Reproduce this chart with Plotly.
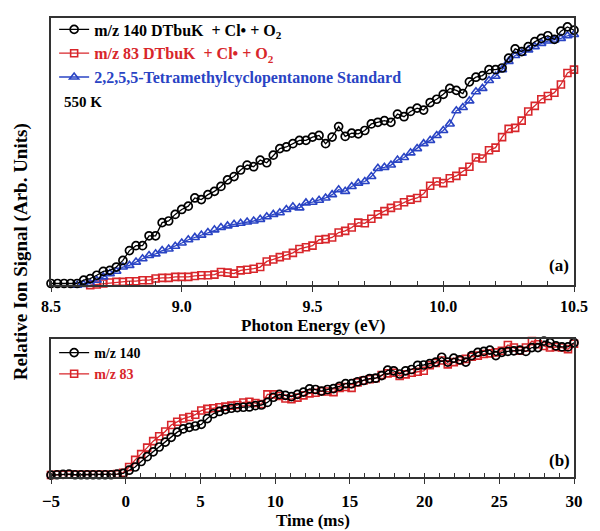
import numpy as np
import plotly.graph_objects as go

# ---------------- Panel (a): photoionization spectra ----------------
energy_140 = np.round(np.arange(81) * 0.025 + 8.5, 3)
signal_140 = [5, 5, 5, 5, 5, 15, 20, 30, 42, 45,
              55, 75, 105, 120, 120, 150, 150, 190, 195, 215,
              230, 240, 265, 260, 275, 285, 300, 320, 330, 350,
              365, 360, 380, 372, 395, 415, 420, 430, 440, 440,
              450, 455, 430, 450, 482, 452, 462, 460, 470, 490,
              495, 500, 495, 520, 512, 528, 538, 532, 555, 565,
              580, 598, 592, 582, 618, 632, 637, 655, 655, 660,
              690, 718, 710, 725, 740, 750, 758, 747, 772, 785,
              775]

energy_83 = np.round(np.arange(75) * 0.025 + 8.65, 3)
signal_83 = [0, 2, 5, 8, 10, 10, 12, 12, 15, 15,
             20, 22, 22, 25, 25, 25, 28, 30, 30, 32,
             40, 38, 35, 45, 47, 50, 55, 72, 78, 85,
             90, 98, 110, 115, 120, 138, 140, 145, 160, 165,
             175, 190, 188, 202, 215, 225, 235, 242, 252, 260,
             265, 278, 302, 315, 310, 325, 332, 345, 360, 388,
             385, 410, 418, 450, 475, 478, 500, 528, 545, 565,
             575, 585, 610, 645, 655]

energy_std = np.round(np.arange(77) * 0.025 + 8.6, 3)
signal_std = [0, 2, 5, 15, 25, 35, 42, 55, 60, 70,
              80, 90, 95, 105, 110, 118, 128, 138, 145, 152,
              160, 168, 175, 180, 185, 188, 192, 195, 200, 208,
              215, 220, 230, 238, 235, 250, 252, 258, 265, 275,
              290, 285, 300, 310, 315, 330, 355, 358, 365, 380,
              388, 402, 415, 430, 440, 455, 470, 490, 530, 540,
              560, 588, 598, 622, 635, 655, 680, 698, 705, 715,
              725, 735, 742, 745, 750, 758, 762]

energy_ticks = [8.5, 9.0, 9.5, 10.0, 10.5]
energy_ticklabels = ["8.5", "9.0", "9.5", "10.0", "10.5"]

# ---------------- Panel (b): kinetic time traces ----------------
time_ms = np.round(np.linspace(-5, 30, 88), 3)
kin_140 = [0, 1, 2, 3, 1, 1, 1, 1, 1, 1, 1, 3, 5,
           15, 25, 42, 57, 72, 87, 102, 117, 133, 143, 148, 152, 157,
           175, 190, 197, 203, 207, 209, 210, 211, 215, 217, 225, 241,
           250, 247, 243, 250, 257, 267, 265, 260, 265, 268, 275, 283,
           283, 289, 293, 299, 300, 308, 325, 323, 313, 323, 327, 340,
           341, 345, 350, 365, 350, 362, 357, 350, 370, 380, 383, 387,
           370, 380, 383, 385, 387, 383, 395, 395, 415, 410, 400, 397,
           397, 410]
kin_83 = [0, 1, 1, 2, 1, 1, 1, 1, 1, 1, 1, 3, 7,
          25, 47, 65, 85, 105, 120, 135, 155, 165, 175, 180, 187, 200,
          205, 207, 210, 212, 215, 217, 225, 227, 223, 220, 250, 250,
          245, 237, 235, 240, 247, 253, 255, 260, 259, 257, 270, 273,
          270, 287, 293, 297, 300, 310, 315, 317, 307, 312, 317, 320,
          323, 340, 347, 355, 343, 350, 355, 360, 367, 370, 375, 377,
          380, 385, 403, 395, 385, 395, 415, 405, 400, 395, 397, 395,
          390, 407]
time_ticks = [-5, 0, 5, 10, 15, 20, 25, 30]

BLACK = "#000000"
RED = "#d8262b"
BLUE = "#2a44c4"
FONT = "Liberation Serif"

fig = go.Figure()

# Panel (a)
fig.add_trace(go.Scatter(
    x=energy_83, y=signal_83, mode="lines+markers", xaxis="x", yaxis="y",
    name=f'<span style="color:{RED}"><b>m/z 83 DTbuK  + Cl• + O<sub>2</sub></b></span>',
    line=dict(color=RED, width=1.3),
    marker=dict(symbol="square-open", size=7, color=RED, line=dict(width=1.6, color=RED)),
    cliponaxis=False, legend="legend", legendrank=2))
fig.add_trace(go.Scatter(
    x=energy_std, y=signal_std, mode="lines+markers", xaxis="x", yaxis="y",
    name=f'<span style="color:{BLUE}"><b>2,2,5,5-Tetramethylcyclopentanone Standard</b></span>',
    line=dict(color=BLUE, width=1.3),
    marker=dict(symbol="triangle-up-open", size=8, color=BLUE, line=dict(width=1.6, color=BLUE)),
    cliponaxis=False, legend="legend", legendrank=3))
fig.add_trace(go.Scatter(
    x=energy_140, y=signal_140, mode="lines+markers", xaxis="x", yaxis="y",
    name='<b>m/z 140 DTbuK  + Cl• + O<sub>2</sub></b>',
    line=dict(color=BLACK, width=1.3),
    marker=dict(symbol="circle-open", size=8, color=BLACK, line=dict(width=1.7, color=BLACK)),
    cliponaxis=False, legend="legend", legendrank=1))

# Panel (b)
fig.add_trace(go.Scatter(
    x=time_ms, y=kin_83, mode="lines+markers", xaxis="x2", yaxis="y2",
    name=f'<span style="color:{RED}"><b>m/z 83</b></span>',
    line=dict(color=RED, width=1.3),
    marker=dict(symbol="square-open", size=7, color=RED, line=dict(width=1.6, color=RED)),
    cliponaxis=False, legend="legend2", legendrank=2))
fig.add_trace(go.Scatter(
    x=time_ms, y=kin_140, mode="lines+markers", xaxis="x2", yaxis="y2",
    name='<b>m/z 140</b>',
    line=dict(color=BLACK, width=1.3),
    marker=dict(symbol="circle-open", size=8, color=BLACK, line=dict(width=1.7, color=BLACK)),
    cliponaxis=False, legend="legend2", legendrank=1))

axis_common = dict(showline=True, linecolor="#333333", linewidth=1.5, mirror=True,
                   showgrid=False, zeroline=False)

fig.update_layout(
    width=600, height=531,
    margin=dict(l=51, r=21, t=13, b=54),
    paper_bgcolor="white", plot_bgcolor="white",
    font=dict(family=FONT, size=16, color="black"),
    showlegend=True,
    xaxis=dict(domain=[0, 1], range=[8.5, 10.5], anchor="y",
               tickvals=energy_ticks, ticktext=energy_ticklabels,
               ticks="outside", ticklen=5, tickwidth=1.2, tickcolor="#333333",
               ticklabelstandoff=1,
               minor=dict(dtick=0.1, ticks="inside", ticklen=4, tickwidth=1, tickcolor="#333333"),
               tickfont=dict(family=FONT, size=16, color="black", weight="bold"),
               **axis_common),
    yaxis=dict(domain=[0.418, 1], range=[0, 812], anchor="x",
               showticklabels=False, ticks="", **axis_common),
    xaxis2=dict(domain=[0, 1], range=[-5, 30], anchor="y2",
                tickvals=time_ticks,
                ticks="outside", ticklen=5, tickwidth=1.2, tickcolor="#333333",
                ticklabelstandoff=3,
                minor=dict(dtick=1, ticks="inside", ticklen=4, tickwidth=1, tickcolor="#333333"),
                tickfont=dict(family=FONT, size=17, color="black", weight="bold"),
                **axis_common),
    yaxis2=dict(domain=[0, 0.2996], range=[-6, 420], anchor="x2",
                showticklabels=False, ticks="", **axis_common),
    legend=dict(x=0.006, y=1.012, xanchor="left", yanchor="top",
                bgcolor="rgba(0,0,0,0)", borderwidth=0,
                font=dict(family=FONT, size=16, color="black"),
                itemwidth=30, tracegroupgap=0),
    legend2=dict(x=0.006, y=0.305, xanchor="left", yanchor="top",
                 bgcolor="rgba(0,0,0,0)", borderwidth=0,
                 font=dict(family=FONT, size=14, color="black"),
                 itemwidth=30, tracegroupgap=0),
    annotations=[
        dict(text="<b>550 K</b>", x=0.021, y=0.817, xref="paper", yref="paper",
             xanchor="left", yanchor="middle", showarrow=False,
             font=dict(family=FONT, size=15, color="black")),
        dict(text="<b>(a)</b>", x=0.972, y=0.461, xref="paper", yref="paper",
             xanchor="center", yanchor="middle", showarrow=False,
             font=dict(family=FONT, size=17, color="black")),
        dict(text="<b>(b)</b>", x=0.972, y=0.037, xref="paper", yref="paper",
             xanchor="center", yanchor="middle", showarrow=False,
             font=dict(family=FONT, size=17, color="black")),
        dict(text="<b>Photon Energy (eV)</b>", x=0.5, y=0.329, xref="paper", yref="paper",
             xanchor="center", yanchor="middle", showarrow=False,
             font=dict(family=FONT, size=17, color="black")),
        dict(text="<b>Time (ms)</b>", x=0.5, y=-0.095, xref="paper", yref="paper",
             xanchor="center", yanchor="middle", showarrow=False,
             font=dict(family=FONT, size=17, color="black")),
        dict(text="<b>Relative Ion Signal (Arb. Units)</b>", x=-0.057, y=0.49,
             xref="paper", yref="paper", textangle=-90,
             xanchor="center", yanchor="middle", showarrow=False,
             font=dict(family=FONT, size=19, color="black")),
    ],
)

fig.write_html("out.html")
